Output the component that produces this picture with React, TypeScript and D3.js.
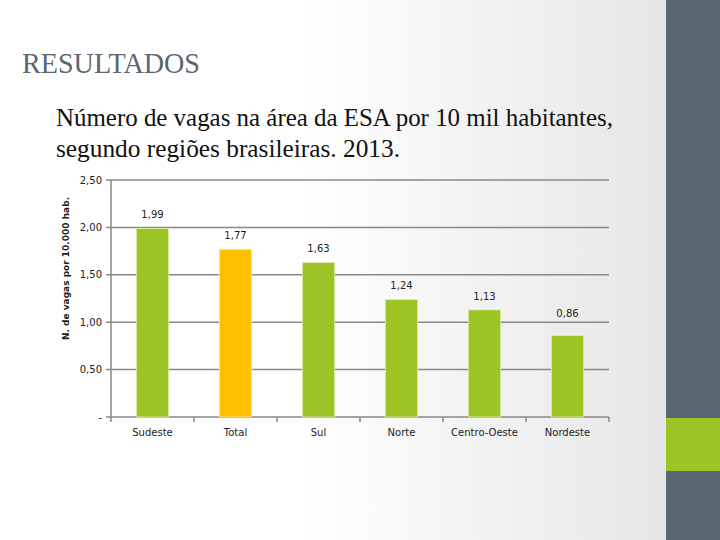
import React from "react";
import * as d3 from "d3";

const categories = ["Sudeste", "Total", "Sul", "Norte", "Centro-Oeste", "Nordeste"];
const values = [1.99, 1.77, 1.63, 1.24, 1.13, 0.86];
const highlight = ["Total"];
const yTicks = [0, 0.5, 1.0, 1.5, 2.0, 2.5];
const yTickLabels = ["-", "0,50", "1,00", "1,50", "2,00", "2,50"];

const W = 720;
const H = 540;
const left = 111;
const right = 609;
const top = 180;
const bottom = 417;

export default function App() {
  const x = d3.scaleBand<string>().domain(categories).range([left, right]).paddingInner(0.61).paddingOuter(0.305);
  const xb = d3.scaleBand<string>().domain(categories).range([left, right]);
  const y = d3.scaleLinear().domain([0, 2.5]).range([bottom, top]);
  const fmt = (v: number) => v.toFixed(2).replace(".", ",");
  const font = "'DejaVu Sans', Verdana, sans-serif";
  const serif = "'Liberation Serif', 'DejaVu Serif', serif";
  const labelGap = (c: string) => (c === "Nordeste" ? 18 : 10);
  return (
    <svg width={W} height={H} style={{ position: "absolute", left: 0, top: 0 }}>
      <defs>
        <linearGradient id="bg" x1="0" y1="0" x2="1" y2="0">
          <stop offset="0" stopColor="#ffffff" />
          <stop offset="0.45" stopColor="#ffffff" />
          <stop offset="1" stopColor="#e6e6e6" />
        </linearGradient>
      </defs>
      <rect x={0} y={0} width={666} height={H} fill="url(#bg)" />
      <rect x={666} y={0} width={54} height={H} fill="#5b6770" />
      <rect x={666} y={418} width={54} height={53} fill="#9bc424" />
      <text x={22} y={73} fontFamily={serif} fontSize={29} fill="#5b6770" textLength={178} lengthAdjust="spacingAndGlyphs">RESULTADOS</text>
      <text x={56} y={126} fontFamily={serif} fontSize={25} fill="#111" textLength={557} lengthAdjust="spacingAndGlyphs">Número de vagas na área da ESA por 10 mil habitantes,</text>
      <text x={56} y={157} fontFamily={serif} fontSize={25} fill="#111" textLength={344} lengthAdjust="spacingAndGlyphs">segundo regiões brasileiras. 2013.</text>
      {yTicks.map((t, i) => (
        <g key={t}>
          <line x1={left - 5} x2={right} y1={y(t)} y2={y(t)} stroke="#898989" strokeWidth={1.5} />
          <text x={left - 9} y={y(t) + 3.5} textAnchor="end" fontFamily={font} fontSize={10} fill="#222">{yTickLabels[i]}</text>
        </g>
      ))}
      <line x1={left} x2={left} y1={top} y2={bottom} stroke="#898989" strokeWidth={1.5} />
      {categories.map((c) => (
        <line key={"t" + c} x1={xb(c)!} x2={xb(c)!} y1={bottom} y2={bottom + 5} stroke="#898989" strokeWidth={1.5} />
      ))}
      <line x1={right} x2={right} y1={bottom} y2={bottom + 5} stroke="#898989" strokeWidth={1.5} />
      {categories.map((c, i) => (
        <g key={c}>
          <rect x={x(c)!} y={y(values[i])} width={x.bandwidth()} height={bottom - y(values[i])}
            fill={highlight.includes(c) ? "#ffc000" : "#9bc424"} stroke={highlight.includes(c) ? "#ffe9a0" : "#e4f0b0"} strokeWidth={0.8} />
          <text x={x(c)! + x.bandwidth() / 2} y={y(values[i]) - labelGap(c)} textAnchor="middle" fontFamily={font} fontSize={10} fill="#222">{fmt(values[i])}</text>
          <text x={xb(c)! + xb.bandwidth() / 2} y={436} textAnchor="middle" fontFamily={font} fontSize={10} fill="#222">{c}</text>
        </g>
      ))}
      <text transform={`translate(69,${(200 + 337) / 2}) rotate(-90)`} textAnchor="middle" fontFamily={font} fontSize={9} fontWeight="bold" fill="#222">N. de vagas por 10.000 hab.</text>
    </svg>
  );
}
